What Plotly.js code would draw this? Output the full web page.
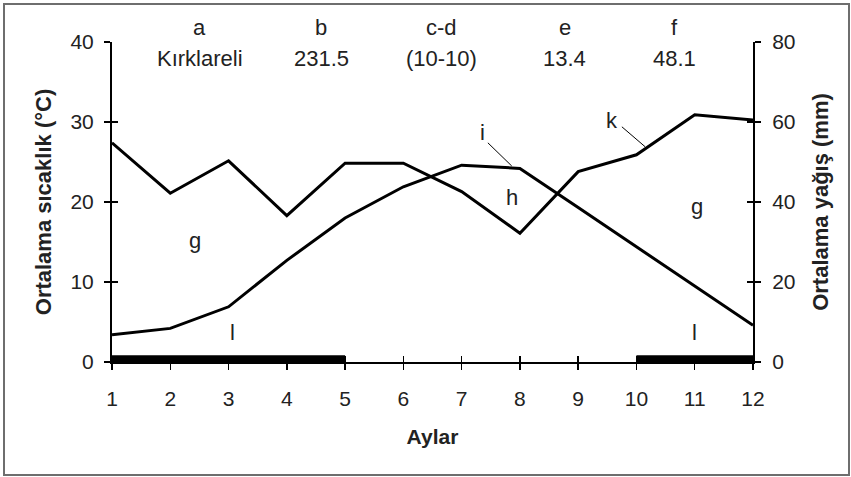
<!DOCTYPE html>
<html>
<head>
<meta charset="utf-8">
<script src="https://cdn.plot.ly/plotly-3.0.1.min.js"></script>
<style>html,body{margin:0;padding:0;background:#fff;}#chart{width:851px;height:477px;}</style>
</head>
<body>
<div id="chart"></div>
<script>
// ---- data ----
var months = [1,2,3,4,5,6,7,8,9,10,11,12];
var temperature = [3.4,4.2,6.9,12.7,18.0,21.9,24.6,24.2,19.3,14.4,9.5,4.6];      // °C, left axis
var precipitation = [54.8,42.2,50.3,36.6,49.7,49.7,42.6,32.2,47.6,51.8,61.8,60.5]; // mm, right axis
var frostStart = [1,10];
var frostEnd = [5,12];
var topLetters = ['a','b','c-d','e','f'];
var topValues = ['Kırklareli','231.5','(10-10)','13.4','48.1'];
var leftTicks = [0,10,20,30,40];
var rightTicks = [0,20,40,60,80];
var monthTicks = months;

// ---- layout helpers ----
var FONT = 'Liberation Sans, Arial, sans-serif';
var TXT = '#222';
var traces = [];
traces.push({x: months, y: temperature, xaxis:'x', yaxis:'y', mode:'lines',
  line:{color:'#000', width:3}, hoverinfo:'skip', showlegend:false});
traces.push({x: months, y: precipitation, xaxis:'x', yaxis:'y2', mode:'lines',
  line:{color:'#000', width:3}, hoverinfo:'skip', showlegend:false});
for (var i = 0; i < frostStart.length; i++) {
  traces.push({x:[frostStart[i], frostEnd[i]], y:[0.4,0.4], xaxis:'x', yaxis:'y', mode:'lines',
    line:{color:'#000', width:7}, hoverinfo:'skip', showlegend:false});
}
// dummy traces to carry the "inside" tick overlay axes
traces.push({x:[null], y:[null], xaxis:'x2', yaxis:'y3', mode:'lines', showlegend:false, hoverinfo:'skip'});
traces.push({x:[null], y:[null], xaxis:'x2', yaxis:'y4', mode:'lines', showlegend:false, hoverinfo:'skip'});

var topX = [2.51, 4.59, 6.66, 8.77, 10.66];
var annotations = [];
for (var j = 0; j < topLetters.length; j++) {
  annotations.push({x: topX[j], y: 1.045, xref:'x', yref:'paper', text: topLetters[j], showarrow:false,
    font:{family:FONT, size:22, color:TXT}, xanchor:'center', yanchor:'middle'});
  annotations.push({x: topX[j], y: 0.95, xref:'x', yref:'paper', text: topValues[j], showarrow:false,
    font:{family:FONT, size:22, color:TXT}, xanchor:'center', yanchor:'middle'});
}
var inLabels = [
  {t:'g', x:2.42, y:15.25}, {t:'g', x:11.04, y:19.4}, {t:'h', x:7.86, y:20.6},
  {t:'i', x:7.35, y:28.75}, {t:'k', x:9.58, y:30.25}, {t:'l', x:3.06, y:3.75}, {t:'l', x:11.0, y:3.75}
];
inLabels.forEach(function(L){
  annotations.push({x:L.x, y:L.y, xref:'x', yref:'y', text:L.t, showarrow:false,
    font:{family:FONT, size:22, color:TXT}, xanchor:'center', yanchor:'middle'});
});

var shapes = [
  {type:'line', xref:'x', yref:'y', x0:7.45, y0:27.4, x1:7.86, y1:24.5, line:{color:'#000', width:1}},
  {type:'line', xref:'x', yref:'y', x0:9.75, y0:29.4, x1:10.15, y1:26.9, line:{color:'#000', width:1}},
  {type:'rect', xref:'paper', yref:'paper', x0:(4-112)/641, x1:(849-112)/641, y0:(362-475)/320, y1:(362-4)/320,
    line:{color:'#6e6e6e', width:2}, fillcolor:'rgba(0,0,0,0)', layer:'below'}
];

var axisCommon = {showgrid:false, zeroline:false, showline:true, linecolor:'#000', linewidth:2,
  ticks:'outside', ticklen:6, tickwidth:1.5, tickcolor:'#000', tickfont:{family:FONT, size:21, color:TXT}};

var layout = {
  width:851, height:477,
  margin:{l:112, r:98, t:42, b:115, pad:0},
  paper_bgcolor:'#fff', plot_bgcolor:'#fff',
  showlegend:false,
  xaxis: Object.assign({}, axisCommon, {range:[1,12], tickvals:monthTicks, ticktext:monthTicks.map(String),
    ticklabelstandoff:11,
    title:{text:'<b>Aylar</b>', font:{family:FONT, size:21, color:TXT}, standoff:20}}),
  yaxis: Object.assign({}, axisCommon, {range:[0,40], tickvals:leftTicks, ticklabelstandoff:6,
    title:{text:'<b>Ortalama sıcaklık (°C)</b>', font:{family:FONT, size:22, color:TXT}, standoff:13}}),
  yaxis2: Object.assign({}, axisCommon, {range:[0,80], tickvals:rightTicks, overlaying:'y', side:'right', anchor:'x',
    ticklabelstandoff:7,
    title:{text:'<b>Ortalama yağış (mm)</b>', font:{family:FONT, size:22, color:TXT}, standoff:18}}),
  xaxis2: {range:[1,12], overlaying:'x', anchor:'y3', side:'bottom', showgrid:false, zeroline:false, showline:false,
    ticks:'inside', ticklen:6, tickwidth:1.5, tickcolor:'#000', tickvals:monthTicks, showticklabels:false},
  yaxis3: {range:[0,40], overlaying:'y', anchor:'x2', side:'left', showgrid:false, zeroline:false, showline:false,
    ticks:'inside', ticklen:6, tickwidth:1.5, tickcolor:'#000', tickvals:leftTicks, showticklabels:false},
  yaxis4: {range:[0,80], overlaying:'y', anchor:'x2', side:'right', showgrid:false, zeroline:false, showline:false,
    ticks:'inside', ticklen:6, tickwidth:1.5, tickcolor:'#000', tickvals:rightTicks, showticklabels:false},
  annotations: annotations,
  shapes: shapes
};

Plotly.newPlot('chart', traces, layout, {staticPlot:true, displayModeBar:false});
</script>
</body>
</html>
